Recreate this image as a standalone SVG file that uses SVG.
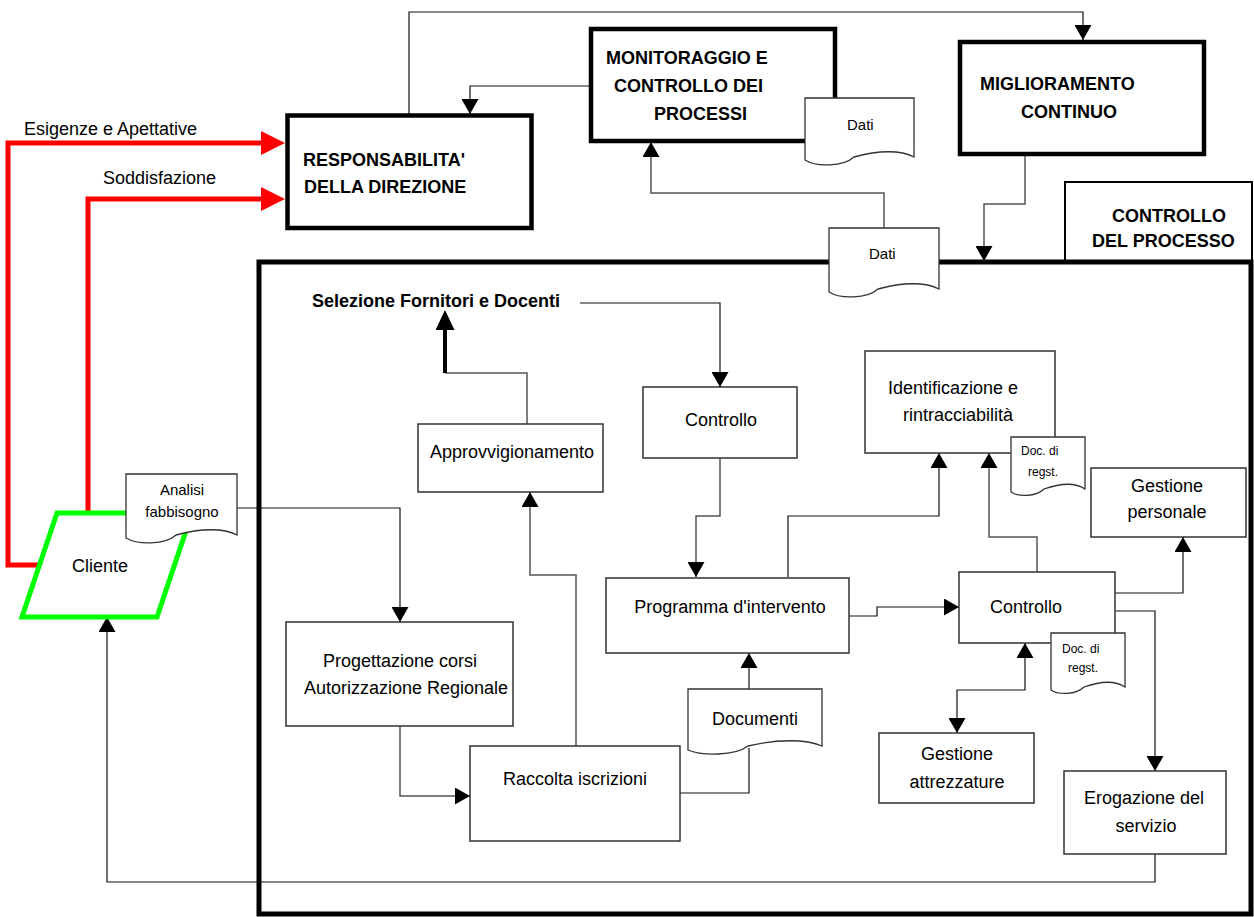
<svg xmlns="http://www.w3.org/2000/svg" width="1254" height="917" viewBox="0 0 1254 917">
<style>
text{font-family:"Liberation Sans",Arial,sans-serif;font-size:18px;fill:#000}
.b{font-weight:bold}
.s15{font-size:15px}
.s12{font-size:12px}
.mid{text-anchor:middle}
.box{fill:#fff;stroke:#333;stroke-width:1.5}
.hbox{fill:#fff;stroke:#000;stroke-width:4.5}
.doc{fill:#fff;stroke:#333;stroke-width:1.3}
.ln{fill:none;stroke:#555;stroke-width:1.5}
.lk{fill:none;stroke:#111;stroke-width:1.2}
.red{fill:none;stroke:#f00;stroke-width:5}
</style>
<defs>
<marker id="a" viewBox="0 0 15 17" refX="15" refY="8.5" markerWidth="15" markerHeight="17" markerUnits="userSpaceOnUse" orient="auto-start-reverse"><path d="M0,0 L15,8.5 L0,17 z" fill="#000"/></marker>
<marker id="ar" viewBox="0 0 24 24" refX="0" refY="12" markerWidth="24" markerHeight="24" markerUnits="userSpaceOnUse" orient="auto"><path d="M0,0 L24,12 L0,24 z" fill="#f00"/></marker>
<marker id="at" viewBox="0 0 20 19" refX="0" refY="9.5" markerWidth="20" markerHeight="19" markerUnits="userSpaceOnUse" orient="auto"><path d="M0,0 L20,9.5 L0,19 z" fill="#000"/></marker>
</defs>
<rect width="1254" height="917" fill="#fff"/>

<g id="controllo-del-processo">
<rect x="1065" y="182" width="187" height="80" fill="#fff" stroke="#000" stroke-width="2"/>
<text class="b" x="1112" y="222">CONTROLLO</text>
<text class="b" x="1092" y="247">DEL PROCESSO</text>
<rect x="259" y="262" width="992" height="652" fill="none" stroke="#000" stroke-width="5"/>
</g>

<g id="connectors">
<path class="lk" d="M409,114 V12 H1083 V40" marker-end="url(#a)"/>
<path class="lk" d="M589,86 H470 V114" marker-end="url(#a)"/>
<path class="ln" d="M884,228 V193 H651 V142" marker-end="url(#a)"/>
<path class="ln" d="M1025,156 V204 H984 V261" marker-end="url(#a)"/>
<path class="red" d="M40,565 H8 V143 H261" marker-end="url(#ar)"/>
<path class="red" d="M88,513 V199 H261" marker-end="url(#ar)"/>
<path class="lk" d="M237,508 H400 V622" marker-end="url(#a)"/>
<path class="ln" d="M400,726 V796 H470" marker-end="url(#a)"/>
<path class="ln" d="M576,746 V575 H530 V492" marker-end="url(#a)"/>
<path class="ln" d="M527,424 V373 H445"/>
<path fill="none" stroke="#000" stroke-width="4" d="M445,373 V330" marker-end="url(#at)"/>
<path class="lk" d="M580,303 H720 V387" marker-end="url(#a)"/>
<path class="ln" d="M720,458 V516 H696 V577" marker-end="url(#a)"/>
<path class="lk" d="M788,577 V516 H939 V453" marker-end="url(#a)"/>
<path class="lk" d="M849,616 H877 V607 H959" marker-end="url(#a)"/>
<path class="ln" d="M1037,572 V537 H989 V453" marker-end="url(#a)"/>
<path class="lk" d="M1115,593 H1183 V537" marker-end="url(#a)"/>
<path class="lk" d="M1115,611 H1155 V771" marker-end="url(#a)"/>
<path class="lk" d="M957,733 V690 H1025 V643" marker-start="url(#a)" marker-end="url(#a)"/>
<path class="lk" d="M1155,854 V882 H107 V617" marker-end="url(#a)"/>
<path class="lk" d="M680,793 H749 V748"/>
<path class="lk" d="M749,689 V653" marker-end="url(#a)"/>
</g>

<g id="responsabilita">
<rect class="hbox" x="287.5" y="115.5" width="244" height="112.5"/>
<text class="b" x="303" y="166">RESPONSABILITA'</text>
<text class="b" x="304" y="193">DELLA DIREZIONE</text>
</g>
<text x="24" y="135">Esigenze e Apettative</text>
<text x="103" y="184">Soddisfazione</text>

<g id="monitoraggio">
<rect class="hbox" x="591" y="29" width="244" height="112"/>
<text class="b" x="606" y="64">MONITORAGGIO E</text>
<text class="b" x="614" y="92">CONTROLLO DEI</text>
<text class="b" x="654" y="120">PROCESSI</text>
</g>

<g id="dati-1">
<path class="doc" d="M805,98 H914 V157 C901,150 879,150 854,157 C843,167 816,167 805,160 Z"/>
<text class="s15" x="847" y="130">Dati</text>
</g>

<g id="miglioramento">
<rect class="hbox" x="960" y="42" width="244" height="112"/>
<text class="b" x="980" y="90">MIGLIORAMENTO</text>
<text class="b" x="1021" y="118">CONTINUO</text>
</g>

<g id="dati-2">
<path class="doc" d="M829,228 H939 V289 C926,282 903,282 878,289 C867,299 840,299 829,292 Z"/>
<text class="s15" x="869" y="259">Dati</text>
</g>

<g id="cliente">
<polygon points="57,513 192,513 157,617 22,617" fill="#fff" stroke="#0f0" stroke-width="5" stroke-linejoin="miter"/>
<text x="72" y="572">Cliente</text>
</g>

<g id="analisi-fabbisogno">
<path class="doc" d="M126,474 H237 V535 C224,528 201,528 176,535 C165,545 138,545 126,538 Z"/>
<text class="s15 mid" x="182" y="495">Analisi</text>
<text class="s15 mid" x="182" y="517">fabbisogno</text>
</g>

<g id="selezione">
<text class="b" x="312" y="307">Selezione Fornitori e Docenti</text>
</g>

<g id="approvvigionamento">
<rect class="box" x="418" y="424" width="185" height="68"/>
<text x="430" y="458">Approvvigionamento</text>
</g>

<g id="progettazione">
<rect class="box" x="286" y="622" width="227" height="104"/>
<text class="mid" x="400" y="667">Progettazione corsi</text>
<text class="mid" x="406" y="694">Autorizzazione Regionale</text>
</g>

<g id="raccolta">
<rect class="box" x="470" y="746" width="210" height="95"/>
<text x="503" y="785">Raccolta iscrizioni</text>
</g>

<g id="documenti">
<path class="doc" d="M688,689 H822 V746 C806,739 778,739 748,746 C735,756 702,756 688,750 Z"/>
<text class="mid" x="755" y="725">Documenti</text>
</g>

<g id="controllo-1">
<rect class="box" x="643" y="387" width="154" height="71"/>
<text class="mid" x="721" y="426">Controllo</text>
</g>

<g id="programma">
<rect class="box" x="606" y="578" width="243" height="75"/>
<text class="mid" x="730" y="613">Programma d'intervento</text>
</g>

<g id="identificazione">
<rect class="box" x="865" y="351" width="190" height="102"/>
<text x="888" y="394">Identificazione e</text>
<text x="903" y="421">rintracciabilità</text>
</g>

<g id="doc-regst-1">
<path class="doc" d="M1011,437 H1085 V489 C1076,483 1061,483 1044,489 C1036,497 1018,497 1011,492 Z"/>
<text class="s12" x="1021" y="455">Doc. di</text>
<text class="s12" x="1028" y="476">regst.</text>
</g>

<g id="gestione-personale">
<rect class="box" x="1091" y="468" width="155" height="69"/>
<text class="mid" x="1167" y="492">Gestione</text>
<text class="mid" x="1167" y="518">personale</text>
</g>

<g id="controllo-2">
<rect class="box" x="959" y="572" width="156" height="71"/>
<text class="mid" x="1026" y="613">Controllo</text>
</g>

<g id="doc-regst-2">
<path class="doc" d="M1051,633 H1125 V687 C1116,681 1101,681 1084,687 C1076,695 1058,695 1051,690 Z"/>
<text class="s12" x="1062" y="653">Doc. di</text>
<text class="s12" x="1068" y="672">regst.</text>
</g>

<g id="gestione-attrezzature">
<rect class="box" x="879" y="733" width="155" height="70"/>
<text class="mid" x="957" y="760">Gestione</text>
<text class="mid" x="957" y="788">attrezzature</text>
</g>

<g id="erogazione">
<rect class="box" x="1064" y="771" width="162" height="83"/>
<text class="mid" x="1144" y="804">Erogazione del</text>
<text class="mid" x="1146" y="832">servizio</text>
</g>
</svg>
